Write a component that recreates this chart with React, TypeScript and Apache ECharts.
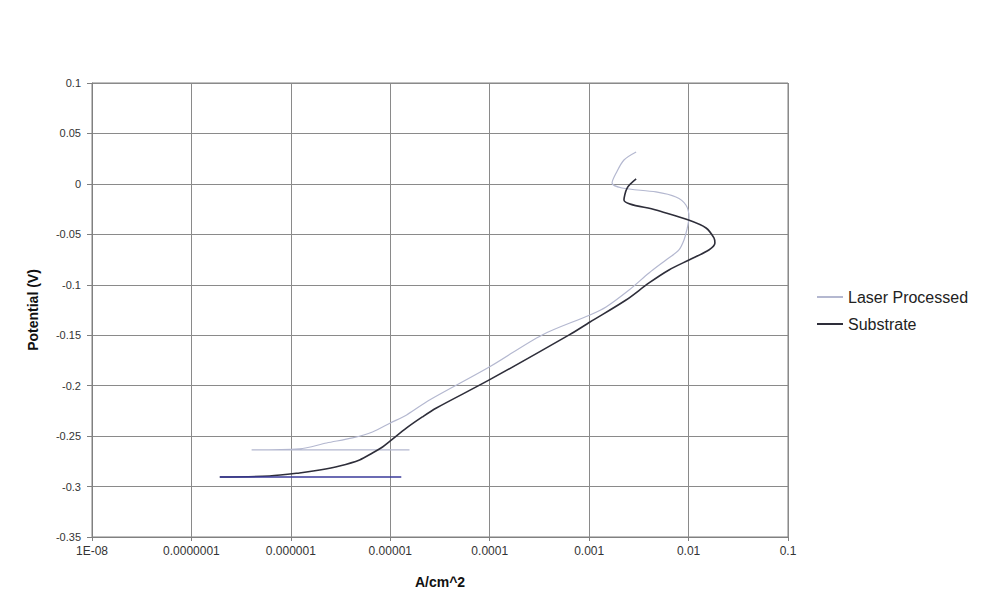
import React, { useEffect, useRef } from "react";
import * as echarts from "echarts";

const xTickLabels = ["1E-08", "0.0000001", "0.000001", "0.00001", "0.0001", "0.001", "0.01", "0.1"];

// Laser Processed: current density (A/cm^2) and potential (V)
const laserCurrent = [
  1.56e-5, 4.03e-7, 1.22e-6, 2.29e-6, 4.17e-6, 6.62e-6, 1.0e-5, 1.46e-5, 2.48e-5, 9.9e-5,
  3.37e-4, 1.02e-3, 1.48e-3, 2.52e-3, 4.0e-3, 5.93e-3, 8.0e-3, 9.0e-3, 9.6e-3, 1.01e-2,
  9.4e-3, 7.46e-3, 4.7e-3, 2.14e-3, 1.7e-3, 1.87e-3, 2.24e-3, 2.97e-3,
];
const laserPotential = [
  -0.2637, -0.2637, -0.2627, -0.2568, -0.2518, -0.2459, -0.237, -0.229, -0.2142, -0.1815,
  -0.1497, -0.1299, -0.122, -0.1052, -0.0883, -0.0754, -0.0655, -0.0556, -0.0457, -0.0328,
  -0.0209, -0.013, -0.008, -0.0041, 0.0009, 0.0108, 0.0237, 0.0316,
];

// Substrate: initial flat segment at start of scan
const substrateStartCurrent = [1.29e-5, 1.93e-7];
const substrateStartPotential = [-0.2905, -0.2905];

// Substrate: main curve
const substrateCurrent = [
  1.93e-7, 6.1e-7, 1.22e-6, 1.95e-6, 3.09e-6, 4.91e-6, 6.62e-6, 8.36e-6, 1.0e-5, 1.46e-5,
  2.1e-5, 2.91e-5, 9.9e-5, 6.3e-4, 1.02e-3, 2.35e-3, 4.0e-3, 6.35e-3, 1.01e-2, 1.6e-2,
  1.84e-2, 1.8e-2, 1.5e-2, 1.0e-2, 4.7e-3, 2.24e-3, 2.41e-3, 2.97e-3,
];
const substratePotential = [
  -0.2905, -0.2895, -0.2865, -0.2836, -0.2796, -0.2736, -0.2667, -0.2608, -0.2548, -0.2419,
  -0.231, -0.2221, -0.1943, -0.1497, -0.1369, -0.1151, -0.0982, -0.0853, -0.0754, -0.0655,
  -0.0586, -0.0536, -0.0437, -0.0358, -0.0259, -0.016, -0.0041, 0.0049,
];

const zip = (xs: number[], ys: number[]) => xs.map((x, i) => [x, ys[i]]);

export default function App() {
  const ref = useRef<HTMLDivElement>(null);
  useEffect(() => {
    if (!ref.current) return;
    const chart = echarts.init(ref.current, null, { renderer: "svg" });
    const font = "Liberation Sans, Arial, sans-serif";
    chart.setOption({
      animation: false,
      backgroundColor: "#ffffff",
      grid: {
        left: 92,
        top: 83,
        width: 696,
        height: 454,
        show: true,
        borderColor: "#808080",
        borderWidth: 1,
      },
      legend: {
        data: [
          { name: "Laser Processed", icon: "rect" },
          { name: "Substrate", icon: "rect" },
        ],
        orient: "vertical",
        left: 812,
        top: 284,
        itemWidth: 26,
        itemHeight: 2,
        itemGap: 11,
        textStyle: { fontFamily: font, fontSize: 16, color: "#222" },
      },
      xAxis: {
        type: "log",
        logBase: 10,
        min: 1e-8,
        max: 0.1,
        name: "A/cm^2",
        nameLocation: "middle",
        nameGap: 38,
        nameTextStyle: { fontFamily: font, fontSize: 14, fontWeight: "bold", color: "#111" },
        axisLine: { show: true, onZero: false, lineStyle: { color: "#808080" } },
        axisTick: { show: true, length: 4, lineStyle: { color: "#808080" } },
        minorTick: { show: false },
        splitLine: { show: true, lineStyle: { color: "#8a8a8a", width: 1 } },
        axisLabel: {
          fontFamily: font,
          fontSize: 12,
          color: "#333",
          margin: 8,
          formatter: (v: number) => {
            const idx = Math.round(Math.log10(v)) + 8;
            return xTickLabels[idx] ?? "";
          },
        },
      },
      yAxis: {
        type: "value",
        min: -0.35,
        max: 0.1,
        interval: 0.05,
        name: "Potential (V)",
        nameLocation: "middle",
        nameGap: 52,
        nameRotate: 90,
        nameTextStyle: { fontFamily: font, fontSize: 14, fontWeight: "bold", color: "#111" },
        axisLine: { show: true, onZero: false, lineStyle: { color: "#808080" } },
        axisTick: { show: true, length: 5, lineStyle: { color: "#808080" } },
        splitLine: { show: true, lineStyle: { color: "#8a8a8a", width: 1 } },
        axisLabel: {
          fontFamily: font,
          fontSize: 11,
          color: "#333",
          margin: 11,
          formatter: (v: number) => String(Math.round(v * 100) / 100),
        },
      },
      series: [
        {
          name: "Laser Processed",
          type: "line",
          symbol: "none",
          smooth: 0.3,
          data: zip(laserCurrent, laserPotential),
          lineStyle: { color: "#b4b8d0", width: 1.2 },
          itemStyle: { color: "#b4b8d0" },
        },
        {
          name: "Substrate",
          type: "line",
          symbol: "none",
          smooth: 0.3,
          data: zip(substrateCurrent, substratePotential),
          lineStyle: { color: "#2e2e3a", width: 1.6 },
          itemStyle: { color: "#2e2e3a" },
        },
        {
          type: "line",
          symbol: "none",
          data: zip(substrateStartCurrent, substrateStartPotential),
          lineStyle: { color: "#3a3a9a", width: 1.4 },
          itemStyle: { color: "#3a3a9a" },
        },
      ],
    });
    return () => chart.dispose();
  }, []);
  return (
    <div
      ref={ref}
      style={{ position: "fixed", left: 0, top: 0, width: 988, height: 601, background: "#fff" }}
    />
  );
}
